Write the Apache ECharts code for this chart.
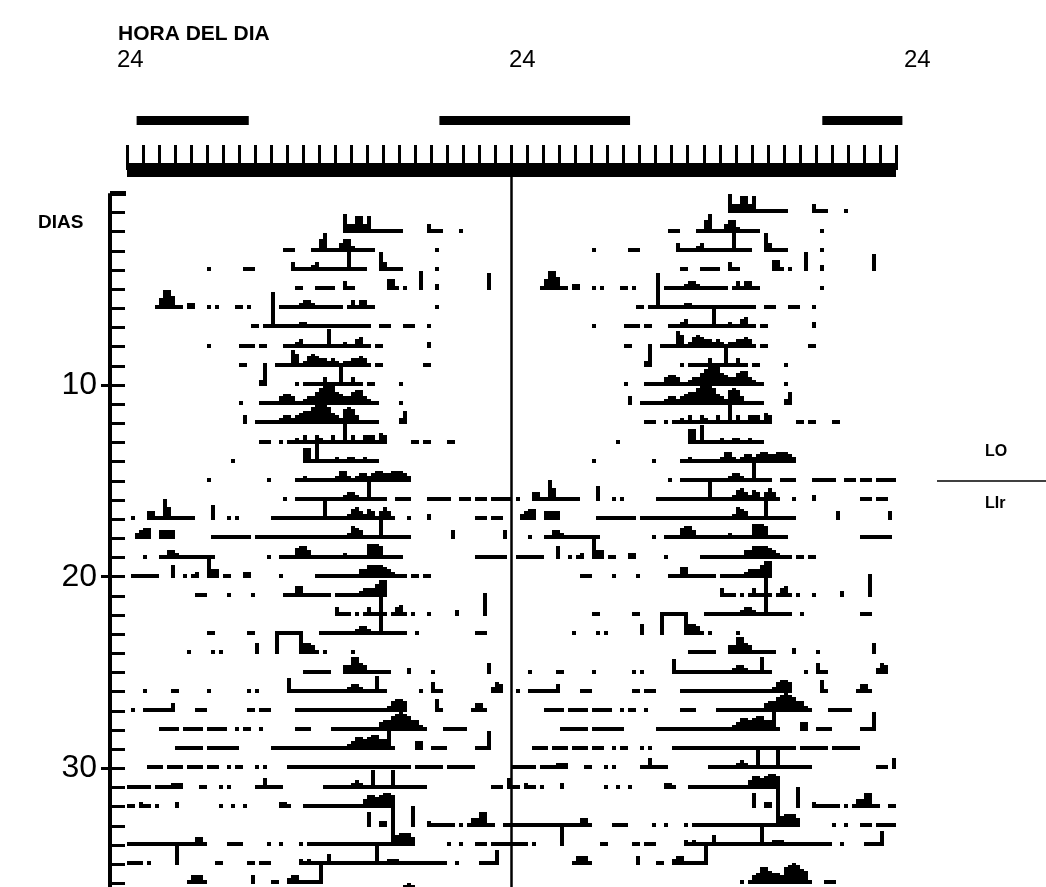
<!DOCTYPE html>
<html>
<head>
<meta charset="utf-8">
<script src="https://cdn.jsdelivr.net/npm/echarts@6/dist/echarts.min.js"></script>
<style>
  html, body { margin: 0; padding: 0; background: #fff; overflow: hidden; }
  #chart { width: 1046px; height: 920px; }
</style>
</head>
<body>
<div id="chart"></div>
<script>
// Actogram, double plotted: every row shows day n (first 24 h) followed by day n+1.
// Activity is binned in 15-minute bins (96 per day). Each day is a list of
// [first bin, levels] runs; each character of levels is one bin's activity
// level in base 36 (0 = no activity, 9 = about one row high).
const day02 = [[54, "944884822222222"], [75, "4222"], [83, "2"]];
const day03 = [[39, "222"], [46, "2269222466322222"], [77, "2"]];
const day04 = [[20, "2"], [29, "222"], [41, "4222234222222292222"], [63, "942222"], [77, "2"]];
const day05 = [[42, "22"], [47, "22222"], [54, "422"], [65, "55202"], [73, "9"], [77, "3"], [90, "8"]];
const day06 = [[7, "2599622"], [15, "33"], [20, "2"], [22, "2"], [27, "2202"], [38, "2222234432222222"], [55, "2424422"], [77, "2"]];
const day07 = [[31, "22022h222222332222222222222222"], [63, "222"], [69, "222"], [75, "2"]];
const day08 = [[20, "2"], [28, "2222022"], [39, "2223422222292223224522"], [62, "22"], [75, "3"]];
const day09 = [[28, "22"], [37, "222286235654434323344542"], [62, "22"], [74, "22"]];
const day10 = [[33, "3b"], [42, "20222224222922422022"], [68, "2"]];
const day11 = [[28, "2"], [33, "22222455422344689a965446774322"], [68, "2"]];
const day12 = [[29, "4"], [32, "2222223443456689a98543787422222"], [68, "36"]];
const day13 = [[33, "222"], [38, "2022324224322422a2422444254"], [71, "22022"], [80, "22"]];
const day14 = [[26, "2"], [44, "7729222232233223222"]];
const day15 = [[20, "2"], [35, "2"], [42, "22322222223553234434554455543"]];
const day16 = [[39, "2"], [42, "22222222222234432292222"], [67, "2222"], [75, "222222"], [83, "222"], [87, "222"], [91, "222"], [94, "22"]];
const day17 = [[1, "2"], [5, "4422a6222222"], [21, "7"], [25, "202"], [36, "2222222222222922222356435424642"], [70, "2"], [75, "3"], [87, "222"], [91, "222"]];
const day18 = [[2, "3455"], [8, "4444"], [21, "2222222222022222"], [36, "22222222222222222223654222292222222"], [81, "4"], [94, "4"]];
const day19 = [[4, "2"], [8, "22443222222222"], [35, "2"], [38, "2222566422222222322222777622222"], [87, "22222222"]];
const day20 = [[1, "2222222"], [11, "6"], [14, "2023"], [20, "a44"], [24, "22"], [29, "33"], [38, "2"], [47, "22222222222446666543222"], [71, "22022"]];
const day21 = [[17, "222"], [25, "2"], [31, "2"], [39, "22255222222202222223444688"]];
const day22 = [[52, "42220202422920245202"], [75, "2"], [82, "3"], [89, "b"]];
const day23 = [[20, "22"], [30, "22"], [37, "2222222"], [48, "2222222223443229222222"], [72, "2"], [87, "222"]];
const day24 = [[15, "2"], [21, "202"], [32, "5"], [37, "9"], [43, "95542"], [49, "2"], [56, "2"]];
const day25 = [[44, "2222222"], [54, "448854222222"], [70, "3"], [76, "2"], [90, "5"]];
const day26 = [[4, "2"], [11, "22"], [20, "2"], [30, "202"], [40, "7222222222222223443222822"], [73, "2"], [76, "522"], [91, "354"]];
const day27 = [[1, "2"], [4, "22222224"], [17, "222"], [30, "220222"], [42, "2222222222222222222222235665"], [77, "62"], [86, "2442"]];
const day28 = [[8, "22222022222022222"], [27, "2"], [29, "22"], [33, "2"], [42, "2222"], [51, "222222222222455789875532"], [79, "222222"]];
const day29 = [[12, "2222222022222222"], [36, "2222222222222222222346656775592"], [72, "44"], [76, "2222"], [87, "2229"]];
const day30 = [[5, "222202222022220222"], [25, "2022"], [32, "202"], [40, "2222222222222222222222222222222"], [72, "222222202222222"]];
const day31 = [[0, "22222202222333"], [18, "22"], [23, "2"], [25, "2"], [32, "2252222"], [49, "22222223432292222922222222"], [91, "222"], [95, "5"]];
const day32 = [[0, "22032202"], [12, "3"], [23, "2"], [26, "2"], [29, "2"], [38, "332"], [44, "22222222222222246656776"]];
const day33 = [[60, "7"], [63, "33"], [71, "a"], [75, "3222222"], [83, "202447722"], [94, "22"]];
const day34 = [[0, "222222222222"], [12, "22222442"], [25, "2222"], [35, "2"], [38, "2"], [43, "20222222222222222222222o56664"], [80, "2"], [83, "2"], [87, "222022222"]];
const day35 = [[0, "222202"], [12, "9"], [22, "22"], [30, "220222"], [43, "3232222522222222222922333222222222222"], [82, "2"], [88, "22227"]];
const day36 = [[15, "24442"], [31, "4"], [36, "2200344222229"]];
const day37 = [[57, "2"], [59, "24588655489a9762"], [78, "222"]];

const firstDay = 2;
const days = [day02, day03, day04, day05, day06, day07, day08, day09, day10, day11,
  day12, day13, day14, day15, day16, day17, day18, day19, day20, day21, day22, day23,
  day24, day25, day26, day27, day28, day29, day30, day31, day32, day33, day34, day35,
  day36, day37];

// Lights-off periods over the 48 h span of the ruler (hours).
const darkPeriods = [[0.6, 7.6], [19.5, 31.4], [43.4, 48.4]];
const hourLabels = ["24", "24", "24"];
const dayLabels = [10, 20, 30];
const lastRow = 37;

// Runs of equal level become one rectangle; the day is drawn twice:
// on its own row (0-24 h) and on the previous row (24-48 h).
const activity = [];
days.forEach((segments, i) => {
  const day = firstDay + i;
  const levels = new Array(96).fill(0);
  segments.forEach(([start, str]) => {
    for (let j = 0; j < str.length; j++) {
      const b = start + j;
      if (b >= 0 && b < 96) levels[b] = parseInt(str[j], 36);
    }
  });
  let b = 0;
  while (b < 96) {
    const lv = levels[b];
    let e = b + 1;
    while (e < 96 && levels[e] === lv) e++;
    if (lv > 0) {
      activity.push([b / 4, e / 4, day, lv]);
      activity.push([24 + b / 4, 24 + e / 4, day - 1, lv]);
    }
    b = e;
  }
});

function renderActivity(params, api) {
  const p0 = api.coord([api.value(0), api.value(2)]);
  const p1 = api.coord([api.value(1), api.value(2)]);
  const rowPx = Math.abs(api.coord([0, 1])[1] - api.coord([0, 0])[1]);
  const h = Math.round(api.value(3) * rowPx / 9);
  const x0 = Math.round(p0[0]);
  const x1 = Math.round(p1[0]);
  const yb = Math.round(p0[1]) + 1;
  return {
    type: 'rect',
    shape: { x: x0, y: yb - h, width: x1 - x0, height: h },
    style: { fill: '#000' }
  };
}

function renderDark(params, api) {
  const a = api.coord([api.value(0), 9]);
  const b = api.coord([api.value(1), 7.5]);
  return {
    type: 'rect',
    shape: { x: a[0], y: a[1], width: b[0] - a[0], height: b[1] - a[1] },
    style: { fill: '#000' }
  };
}

function renderMidline(params, api) {
  const a = api.coord([api.value(0), api.value(1)]);
  const b = api.coord([api.value(0), api.value(2)]);
  return {
    type: 'line',
    shape: { x1: a[0], y1: a[1], x2: b[0], y2: b[1] },
    style: { stroke: '#000', lineWidth: 2.5 }
  };
}

const chart = echarts.init(document.getElementById('chart'), null, { renderer: 'canvas' });

const textFont = 'Liberation Sans, Arial, sans-serif';

chart.setOption({
  backgroundColor: '#fff',
  animation: false,
  grid: [
    { left: 127, top: 193.3, width: 769, height: 19.17 * lastRow },
    { left: 127, top: 110, width: 769, height: 60 }
  ],
  xAxis: [
    { gridIndex: 0, type: 'value', min: 0, max: 48, show: false },
    {
      gridIndex: 1, type: 'value', min: 0, max: 48, interval: 1, position: 'bottom',
      axisLine: { show: true, onZero: false, lineStyle: { color: '#000', width: 14, cap: 'butt' } },
      axisTick: { show: true, inside: true, length: 25, lineStyle: { color: '#000', width: 3, cap: 'butt' } },
      axisLabel: { show: false },
      splitLine: { show: false }
    }
  ],
  yAxis: [
    {
      gridIndex: 0, type: 'value', inverse: true, min: 0, max: lastRow, interval: 1,
      position: 'left', offset: 17,
      axisLine: { show: true, onZero: false, lineStyle: { color: '#000', width: 4, cap: 'butt' } },
      axisTick: { show: true, inside: true, length: 15, lineStyle: { color: '#000', width: 3 } },
      axisLabel: { show: false },
      splitLine: { show: false }
    },
    {
      gridIndex: 0, type: 'value', inverse: true, min: 0, max: lastRow,
      position: 'left', offset: 17,
      axisLine: { show: false, onZero: false },
      axisTick: { show: true, inside: false, length: 9, customValues: dayLabels, lineStyle: { color: '#000', width: 3 } },
      axisLabel: {
        show: true, margin: 13, color: '#000', customValues: dayLabels,
        fontFamily: 'Liberation Sans, Arial, sans-serif',
        fontSize: 32
      },
      splitLine: { show: false }
    },
    {
      gridIndex: 0, type: 'value', inverse: true, min: 0, max: lastRow,
      position: 'left', offset: 17,
      axisLine: { show: false, onZero: false },
      axisTick: { show: true, inside: true, length: 16, customValues: [0], lineStyle: { color: '#000', width: 5 } },
      axisLabel: { show: false },
      splitLine: { show: false }
    },
    { gridIndex: 1, type: 'value', min: 0, max: 10, show: false }
  ],
  series: [
    {
      type: 'custom', xAxisIndex: 0, yAxisIndex: 0,
      renderItem: renderActivity, data: activity, silent: true
    },
    {
      type: 'custom', xAxisIndex: 0, yAxisIndex: 0,
      renderItem: renderMidline, data: [[24, -0.85, lastRow]], silent: true
    },
    {
      type: 'custom', xAxisIndex: 1, yAxisIndex: 3,
      renderItem: renderDark, data: darkPeriods, silent: true
    }
  ],
  graphic: [
    { type: 'text', left: 118, top: 24, style: { text: 'HORA DEL DIA', fill: '#000', font: 'bold 21px ' + textFont } },
    { type: 'text', left: 117, top: 48, style: { text: hourLabels[0], fill: '#000', font: '24px ' + textFont } },
    { type: 'text', left: 509, top: 48, style: { text: hourLabels[1], fill: '#000', font: '24px ' + textFont } },
    { type: 'text', left: 904, top: 48, style: { text: hourLabels[2], fill: '#000', font: '24px ' + textFont } },
    { type: 'text', left: 38, top: 213, style: { text: 'DIAS', fill: '#000', font: 'bold 19px ' + textFont } },
    { type: 'text', left: 985, top: 444, style: { text: 'LO', fill: '#000', font: 'bold 16px ' + textFont } },
    { type: 'line', shape: { x1: 937, y1: 481, x2: 1046, y2: 481 }, style: { stroke: '#000', lineWidth: 1.5 } },
    { type: 'text', left: 985, top: 496, style: { text: 'LIr', fill: '#000', font: 'bold 16px ' + textFont } }
  ]
});
</script>
</body>
</html>
